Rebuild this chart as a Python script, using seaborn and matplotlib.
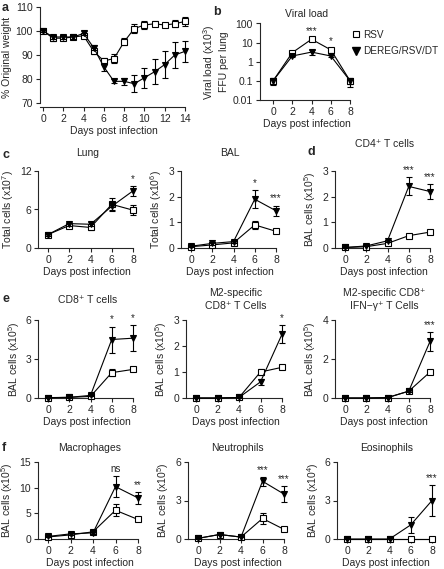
import matplotlib
matplotlib.use("Agg")
import matplotlib.pyplot as plt
from matplotlib.lines import Line2D
import seaborn as sns

# ---- data ----
days14 = list(range(15))
days5 = [0, 2, 4, 6, 8]

# a: weight
weight_rsv = [100, 97, 97, 97.5, 98, 91.5, 87.5, 88.5, 95.5, 101, 102.5, 103, 102.5, 103, 104]
weight_rsv_err = [0.5, 1, 0.8, 0.8, 1, 1, 1.2, 1.8, 1.5, 2, 1.5, 1, 0.8, 1.5, 2]
weight_dt = [100, 97.5, 97.5, 97.5, 99, 93, 85, 79, 79, 78, 80.5, 83, 86, 90, 91.5]
weight_dt_err = [0.5, 0.8, 0.8, 0.8, 0.8, 1, 1.5, 0.8, 1.5, 3.5, 4.2, 5.3, 5.5, 5.5, 4.5]

# b: viral load
viral_rsv = [0.1, 3, 15, 4.2, 0.1]
viral_rsv_err = [0.03, 0.5, 3, 0.8, 0.03]
viral_dt = [0.1, 2, 3.2, 2, 0.1]
viral_dt_err = [0.04, 0.3, 1, 0.3, 0.05]
viral_sig = ["", "", "***", "*", ""]

# c: lung / BAL totals
lung_rsv = [2.1, 3.5, 3.2, 6.8, 5.9]
lung_rsv_err = [0.2, 0.3, 0.4, 1.0, 0.8]
lung_dt = [2.1, 3.8, 3.7, 6.5, 8.9]
lung_dt_err = [0.2, 0.3, 0.3, 0.6, 0.8]
lung_sig = ["", "", "", "", "*"]

bal_rsv = [0.05, 0.12, 0.2, 0.9, 0.65]
bal_rsv_err = [0.02, 0.03, 0.05, 0.15, 0.05]
bal_dt = [0.07, 0.18, 0.25, 1.9, 1.45]
bal_dt_err = [0.02, 0.05, 0.05, 0.35, 0.2]
bal_sig = ["", "", "", "*", "***"]

# d: CD4
cd4_rsv = [0.02, 0.05, 0.18, 0.48, 0.62]
cd4_rsv_err = [0.01, 0.01, 0.03, 0.06, 0.05]
cd4_dt = [0.02, 0.08, 0.28, 2.4, 2.2]
cd4_dt_err = [0.01, 0.02, 0.05, 0.35, 0.3]
cd4_sig = ["", "", "", "***", "***"]

# e: CD8 subsets
cd8_rsv = [0.03, 0.05, 0.12, 1.95, 2.2]
cd8_rsv_err = [0.02, 0.02, 0.03, 0.25, 0.15]
cd8_dt = [0.02, 0.05, 0.2, 4.5, 4.6]
cd8_dt_err = [0.02, 0.03, 0.05, 1.0, 1.0]
cd8_sig = ["", "", "", "*", "*"]

m2_rsv = [0, 0, 0.02, 1.0, 1.18]
m2_rsv_err = [0, 0, 0.01, 0.1, 0.08]
m2_dt = [0, 0, 0.02, 0.62, 2.45]
m2_dt_err = [0, 0, 0.01, 0.12, 0.35]
m2_sig = ["", "", "", "", "*"]

ifn_rsv = [0, 0, 0.02, 0.35, 1.33]
ifn_rsv_err = [0, 0, 0, 0.05, 0.1]
ifn_dt = [0, 0, 0.02, 0.35, 2.9]
ifn_dt_err = [0, 0, 0, 0.05, 0.5]
ifn_sig = ["", "", "", "", "***"]

# f: myeloid cells
mac_rsv = [0.4, 0.8, 1.4, 5.6, 3.8]
mac_rsv_err = [0.1, 0.2, 0.2, 1.2, 0.3]
mac_dt = [0.5, 1.0, 1.2, 10.2, 8.0]
mac_dt_err = [0.1, 0.2, 0.2, 2.0, 1.1]
mac_sig = ["", "", "", "ns", "**"]

neu_rsv = [0.05, 0.35, 0.15, 1.6, 0.75]
neu_rsv_err = [0.02, 0.05, 0.03, 0.45, 0.1]
neu_dt = [0.05, 0.35, 0.15, 4.5, 3.5]
neu_dt_err = [0.02, 0.05, 0.03, 0.35, 0.6]
neu_sig = ["", "", "", "***", "***"]

eos_rsv = [0, 0, 0, 0, 0]
eos_rsv_err = [0, 0, 0, 0, 0]
eos_dt = [0, 0, 0, 1.1, 3.0]
eos_dt_err = [0, 0, 0, 0.6, 1.2]
eos_sig = ["", "", "", "", "***"]

# ---- style ----
sns.set_style("ticks")
plt.rcParams["font.family"] = ["Liberation Sans", "DejaVu Sans"]
plt.rcParams.update({
    "font.size": 7,
    "mathtext.fontset": "custom",
    "mathtext.rm": "Liberation Sans",
    "mathtext.it": "Liberation Sans:italic",
    "axes.linewidth": 0.8,
    "xtick.major.size": 3,
    "ytick.major.size": 3,
    "xtick.major.width": 0.8,
    "ytick.major.width": 0.8,
    "xtick.major.pad": 2,
    "ytick.major.pad": 2,
    "xtick.labelsize": 7.5,
    "ytick.labelsize": 7.5,
    "axes.labelsize": 7.5,
    "axes.titlesize": 7.5,
})

W, H = 444, 569
fig = plt.figure(figsize=(W / 100, H / 100), dpi=100)


def make_ax(left, right, top, bottom):
    return fig.add_axes([left / W, 1 - bottom / H, (right - left) / W, (bottom - top) / H])


def day_ax(x0, x8, top, bottom):
    s = (x8 - x0) / 8
    ax = make_ax(x0 - 0.9 * s, x0 + 8.3 * s, top, bottom)
    ax.set_xlim(-0.9, 8.3)
    return ax


def draw(ax, x, rsv, rsv_err, dt, dt_err, sig=None):
    ax.errorbar(x, rsv, yerr=rsv_err, fmt="none", ecolor="black", elinewidth=0.8,
                capsize=2.5, capthick=0.8, clip_on=False, zorder=2)
    sns.lineplot(x=x, y=rsv, ax=ax, color="black", lw=0.8, marker="s", markersize=4.5,
                 markerfacecolor="white", markeredgecolor="black", markeredgewidth=0.8,
                 clip_on=False, zorder=3, label="RSV", legend=False)
    ax.errorbar(x, dt, yerr=dt_err, fmt="none", ecolor="black", elinewidth=0.8,
                capsize=2.5, capthick=0.8, clip_on=False, zorder=4)
    sns.lineplot(x=x, y=dt, ax=ax, color="black", lw=0.8, marker="v", markersize=5,
                 markerfacecolor="black", markeredgecolor="black", markeredgewidth=0.8,
                 clip_on=False, zorder=5, label="DEREG/RSV/DT", legend=False)
    if sig:
        for xi, s, a, ea, b, eb in zip(x, sig, rsv, rsv_err, dt, dt_err):
            if s:
                top = max(a + ea, b + eb)
                ax.annotate(s, (xi, top), xytext=(0, 1.5), textcoords="offset points",
                            ha="center", va="bottom", fontsize=7)


def finish(ax, ylim, yticks, ylabel, title, pad, xticks=days5, xright=8):
    ax.set_ylim(*ylim)
    ax.set_yticks(yticks)
    ax.set_xticks(xticks)
    ax.set_ylabel(ylabel, labelpad=3)
    ax.set_xlabel("Days post infection", labelpad=1.5)
    if title:
        ax.set_title(title, pad=pad, linespacing=1.3)
    sns.despine(ax=ax)
    ax.spines["bottom"].set_bounds(ax.get_xlim()[0], xright)
    ax.spines["left"].set_bounds(yticks[0], yticks[-1])


def letter(x, y, s):
    fig.text(x / W, 1 - y / H, s, fontsize=9, fontweight="bold", ha="left", va="center")


# a
ax = make_ax(40, 188, 7, 107)
ax.set_xlim(-0.3, 14.3)
draw(ax, days14, weight_rsv, weight_rsv_err, weight_dt, weight_dt_err)
finish(ax, (68.3, 110), [70, 80, 90, 100, 110], "% Original weight", None, 0,
       xticks=list(range(0, 15, 2)), xright=14)
ax.spines["bottom"].set_bounds(-0.3, 14)
letter(2, 8, "a")

# b
ax = make_ax(260, 353, 23.5, 100)
ax.set_xlim(-1.35, 8.3)
ax.set_yscale("log")
draw(ax, days5, viral_rsv, viral_rsv_err, viral_dt, viral_dt_err, viral_sig)
finish(ax, (0.01, 100), [0.01, 0.1, 1, 10, 100], "Viral load (x10$^3$)\nFFU per lung",
       "Viral load", 5)
ax.minorticks_off()
ax.set_yticks([0.01, 0.1, 1, 10, 100])
ax.set_yticklabels(["0.01", "0.1", "1", "10", "100"])
letter(213, 12, "b")
handles = [
    Line2D([], [], ls="none", marker="s", ms=5, mfc="white", mec="black", mew=0.8),
    Line2D([], [], ls="none", marker="v", ms=5.5, mfc="black", mec="black"),
]
fig.legend(handles, ["RSV", "DEREG/RSV/DT"], loc="center left",
           bbox_to_anchor=(347 / W, 1 - 43 / H), frameon=False, fontsize=7.2,
           handletextpad=0.2, labelspacing=0.7, handlelength=1.0, borderaxespad=0)

# c
ax = day_ax(48, 133, 171, 248)
draw(ax, days5, lung_rsv, lung_rsv_err, lung_dt, lung_dt_err, lung_sig)
finish(ax, (0, 12), [0, 6, 12], "Total cells (x10$^7$)", "Lung", 11)
letter(2, 155, "c")

ax = day_ax(191, 276, 171, 248)
draw(ax, days5, bal_rsv, bal_rsv_err, bal_dt, bal_dt_err, bal_sig)
finish(ax, (0, 3), [0, 1, 2, 3], "Total cells (x10$^6$)", "BAL", 11)

# d
ax = day_ax(345, 430, 171, 248)
draw(ax, days5, cd4_rsv, cd4_rsv_err, cd4_dt, cd4_dt_err, cd4_sig)
finish(ax, (0, 3), [0, 1, 2, 3], "BAL cells (x10$^5$)", "CD4\u207a T cells", 17)
letter(307, 152, "d")

# e
ax = day_ax(48, 133, 320, 398)
draw(ax, days5, cd8_rsv, cd8_rsv_err, cd8_dt, cd8_dt_err, cd8_sig)
finish(ax, (0, 6), [0, 3, 6], "BAL cells (x10$^5$)", "CD8\u207a T cells", 12)
letter(2, 299, "e")

ax = day_ax(196, 282, 320, 398)
draw(ax, days5, m2_rsv, m2_rsv_err, m2_dt, m2_dt_err, m2_sig)
finish(ax, (0, 3), [0, 1, 2, 3], "BAL cells (x10$^5$)", "M2-specific\nCD8\u207a T Cells", 8)

ax = day_ax(345, 430, 320, 398)
draw(ax, days5, ifn_rsv, ifn_rsv_err, ifn_dt, ifn_dt_err, ifn_sig)
finish(ax, (0, 4), [0, 2, 4], "BAL cells (x10$^5$)", "M2-specific CD8\u207a\nIFN\u2212\u03b3\u207a T Cells", 8)

# f
ax = day_ax(48, 138, 462, 539)
draw(ax, days5, mac_rsv, mac_rsv_err, mac_dt, mac_dt_err, mac_sig)
finish(ax, (0, 15), [0, 5, 10, 15], "BAL cells (x10$^5$)", "Macrophages", 8)
letter(2, 448, "f")

ax = day_ax(198, 284, 462, 539)
draw(ax, days5, neu_rsv, neu_rsv_err, neu_dt, neu_dt_err, neu_sig)
finish(ax, (0, 6), [0, 3, 6], "BAL cells (x10$^5$)", "Neutrophils", 8)

ax = day_ax(347, 432, 462, 539)
draw(ax, days5, eos_rsv, eos_rsv_err, eos_dt, eos_dt_err, eos_sig)
finish(ax, (0, 6), [0, 3, 6], "BAL cells (x10$^4$)", "Eosinophils", 8)

fig.savefig("out.png", dpi=100)
